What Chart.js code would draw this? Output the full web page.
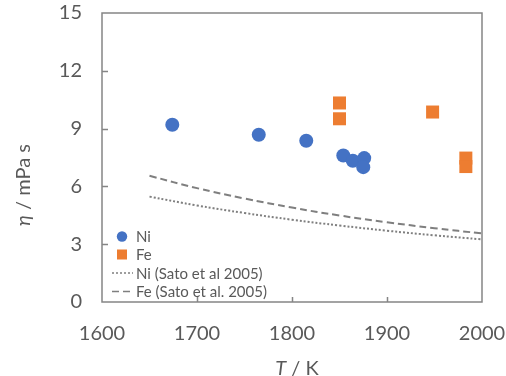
<!DOCTYPE html>
<html>
<head>
<meta charset="utf-8">
<script src="https://cdn.jsdelivr.net/npm/chart.js@4/dist/chart.umd.min.js"></script>
<style>
  html, body { margin: 0; padding: 0; background: #fff; }
  #wrap { width: 506px; height: 376px; }
</style>
</head>
<body>
<div id="wrap"><canvas id="viscChart"></canvas></div>
<script>
'use strict';

// Datos
const xTicks = [1600, 1700, 1800, 1900, 2000];
const yTicks = [0, 3, 6, 9, 12, 15];

const niT = [1674, 1765, 1815, 1854, 1864, 1876, 1875];
const niEta = [9.2, 8.68, 8.37, 7.6, 7.33, 7.47, 7.0];

const feT = [1850, 1850, 1948, 1983, 1983];
const feEta = [10.33, 9.51, 9.86, 7.47, 7.03];

const satoT = [1650, 1700, 1750, 1800, 1850, 1900, 1950, 2000];
const satoNi = [5.47, 5.01, 4.62, 4.27, 3.97, 3.70, 3.46, 3.25];
const satoFe = [6.55, 5.91, 5.37, 4.90, 4.49, 4.14, 3.83, 3.56];

const seriesLabels = ['Ni', 'Fe', 'Ni (Sato et al 2005)', 'Fe (Sato et al. 2005)'];

const GRIS_TEXTO = '#595959';
const GRIS_EJE = '#858585';
const FUENTE = 'Lato, "Open Sans", sans-serif';

function pares(xs, ys) {
    return xs.map((x, i) => ({ x: x, y: ys[i] }));
}

// sin relleno extra de las etiquetas: el área queda fija
function sinPadding(s) {
    s.paddingTop = 0;
    s.paddingBottom = 0;
    s.paddingLeft = 0;
    s.paddingRight = 0;
}

// Marco, marcas interiores, leyenda y títulos de ejes
const decoracion = {
    id: 'decoracion',
    afterDraw(chart) {
        const ctx = chart.ctx;
        const a = chart.chartArea;
        const sx = chart.scales.x;
        const sy = chart.scales.y;
        ctx.save();

        // marco del área
        ctx.strokeStyle = GRIS_EJE;
        ctx.lineWidth = 1.5;
        ctx.strokeRect(a.left, a.top, a.right - a.left, a.bottom - a.top);

        // marcas hacia dentro
        ctx.beginPath();
        xTicks.slice(1, -1).forEach((t) => {
            const px = Math.round(sx.getPixelForValue(t)) + 0.5;
            ctx.moveTo(px, a.bottom);
            ctx.lineTo(px, a.bottom - 5);
        });
        yTicks.slice(1, -1).forEach((t) => {
            const py = Math.round(sy.getPixelForValue(t)) + 0.5;
            ctx.moveTo(a.left, py);
            ctx.lineTo(a.left + 6, py);
        });
        ctx.stroke();

        // leyenda dentro del gráfico
        const ds = chart.data.datasets;
        const lx = 112, tx = 136;
        const filas = [236.5, 254.5, 273, 291.5];
        ctx.font = '15px ' + FUENTE;
        ctx.textBaseline = 'middle';
        ctx.textAlign = 'left';
        ds.forEach((d, i) => {
            const y = filas[i];
            if (d.showLine) {
                ctx.strokeStyle = d.borderColor;
                ctx.lineWidth = 1.5;
                ctx.setLineDash(d.borderDash);
                ctx.beginPath();
                ctx.moveTo(lx, y);
                ctx.lineTo(lx + 21, y);
                ctx.stroke();
                ctx.setLineDash([]);
            } else {
                ctx.fillStyle = d.backgroundColor;
                if (d.pointStyle === 'rect') {
                    ctx.fillRect(117, y - 5, 10, 10);
                } else {
                    ctx.beginPath();
                    ctx.arc(122, y, 5.2, 0, Math.PI * 2);
                    ctx.fill();
                }
            }
            ctx.fillStyle = GRIS_TEXTO;
            ctx.fillText(d.label, tx, y + 1);
        });

        // título eje X: "T / K"
        ctx.fillStyle = GRIS_TEXTO;
        ctx.textBaseline = 'alphabetic';
        const xt1 = 'T', xt2 = ' / K';
        ctx.font = 'italic 20px ' + FUENTE;
        const w1 = ctx.measureText(xt1).width;
        ctx.font = '20px ' + FUENTE;
        const w2 = ctx.measureText(xt2).width;
        let x0 = 297 - (w1 + w2) / 2;
        ctx.font = 'italic 20px ' + FUENTE;
        ctx.fillText(xt1, x0, 375);
        ctx.font = '20px ' + FUENTE;
        ctx.fillText(xt2, x0 + w1, 375);

        // título eje Y: "η / mPa s"
        ctx.translate(30, 185);
        ctx.rotate(-Math.PI / 2);
        const yt1 = 'η', yt2 = ' / mPa s';
        ctx.font = 'italic 20px ' + FUENTE;
        const v1 = ctx.measureText(yt1).width;
        ctx.font = '20px ' + FUENTE;
        const v2 = ctx.measureText(yt2).width;
        x0 = -(v1 + v2) / 2;
        ctx.font = 'italic 20px ' + FUENTE;
        ctx.fillText(yt1, x0, 0);
        ctx.font = '20px ' + FUENTE;
        ctx.fillText(yt2, x0 + v1, 0);

        ctx.restore();
    },
};

const ctx = document.getElementById('viscChart').getContext('2d');
const viscChart = new Chart(ctx, {
    type: 'scatter',
    data: {
        datasets: [
            {
                label: seriesLabels[0],
                data: pares(niT, niEta),
                backgroundColor: '#4472C4',
                borderColor: '#4472C4',
                pointStyle: 'circle',
                pointRadius: 7,
                pointBorderWidth: 0,
                showLine: false,
                order: 1,
            },
            {
                label: seriesLabels[1],
                data: pares(feT, feEta),
                backgroundColor: '#ED7D31',
                borderColor: '#ED7D31',
                pointStyle: 'rect',
                pointRadius: 9.2,
                pointBorderWidth: 0,
                showLine: false,
                order: 1,
            },
            {
                label: seriesLabels[2],
                data: pares(satoT, satoNi),
                borderColor: '#7F7F7F',
                borderWidth: 2,
                borderDash: [2, 2],
                showLine: true,
                pointRadius: 0,
                tension: 0.4,
                order: 2,
            },
            {
                label: seriesLabels[3],
                data: pares(satoT, satoFe),
                borderColor: '#7F7F7F',
                borderWidth: 2,
                borderDash: [7, 4],
                showLine: true,
                pointRadius: 0,
                tension: 0.4,
                order: 2,
            },
        ],
    },
    options: {
        responsive: true,
        maintainAspectRatio: false,
        animation: false,
        layout: {
            padding: { left: 0, right: 24, top: 13, bottom: 0 },
        },
        plugins: {
            legend: { display: false },
            tooltip: { enabled: false },
        },
        scales: {
            x: {
                type: 'linear',
                min: 1600,
                max: 2000,
                afterBuildTicks: (s) => { s.ticks = xTicks.map((v) => ({ value: v })); },
                afterFit: (s) => { s.height = 74; sinPadding(s); },
                grid: { display: false, drawTicks: false },
                border: { display: false },
                ticks: {
                    color: GRIS_TEXTO,
                    font: { family: FUENTE, size: 20 },
                    padding: 20,
                    maxRotation: 0,
                    callback: (v) => String(v),
                },
            },
            y: {
                min: 0,
                max: 15,
                afterBuildTicks: (s) => { s.ticks = yTicks.map((v) => ({ value: v })); },
                afterFit: (s) => { s.width = 102; sinPadding(s); },
                grid: { display: false, drawTicks: false },
                border: { display: false },
                ticks: {
                    color: GRIS_TEXTO,
                    font: { family: FUENTE, size: 20 },
                    padding: 20,
                    callback: (v) => String(v),
                },
            },
        },
    },
    plugins: [decoracion],
});
</script>
</body>
</html>
